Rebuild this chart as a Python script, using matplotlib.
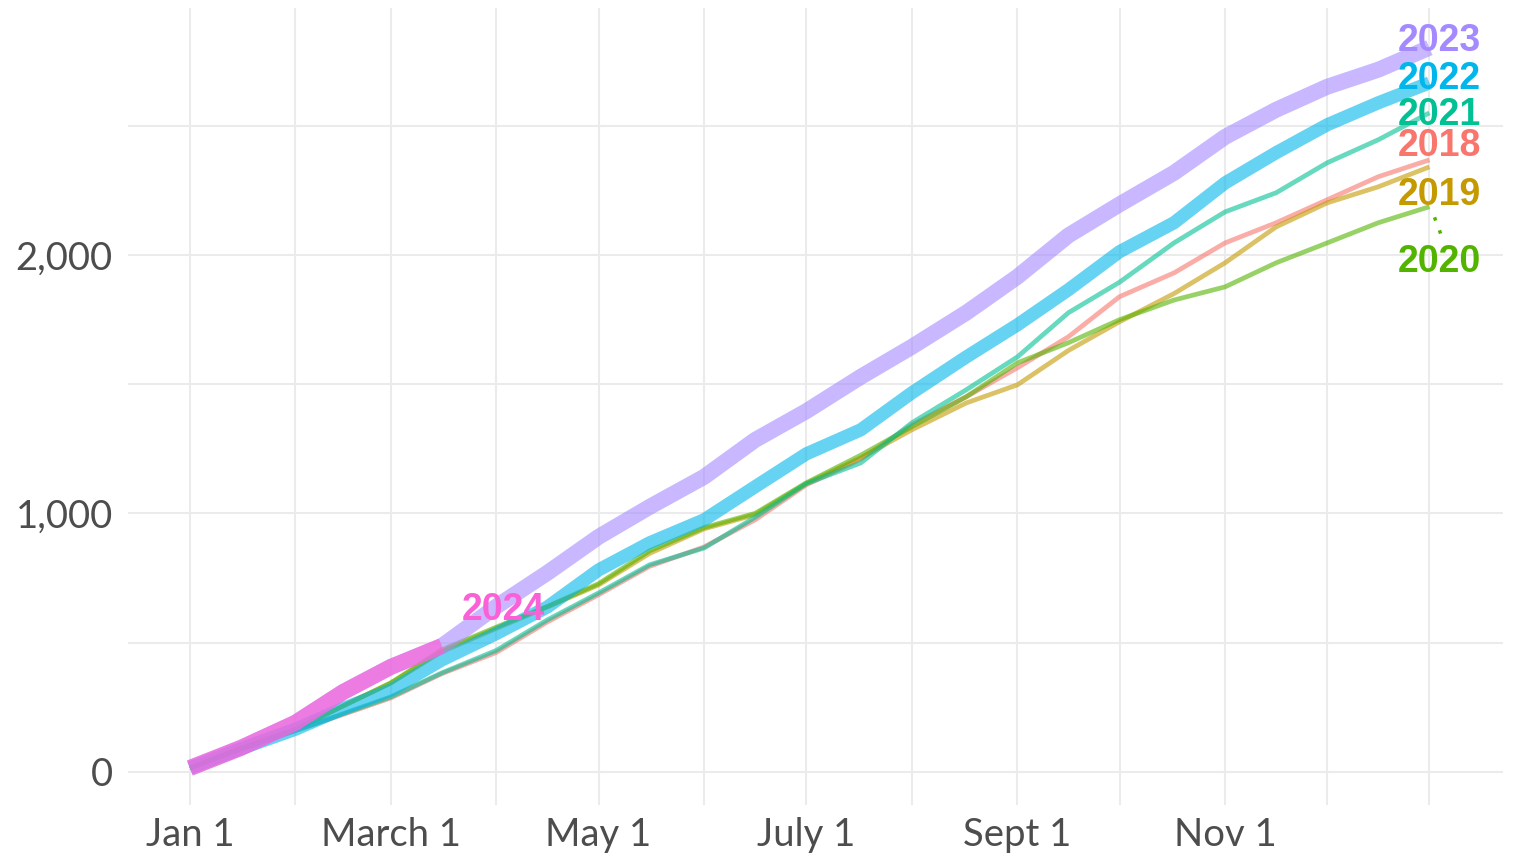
import numpy as np
import matplotlib.pyplot as plt

# day of year, roughly every half month
days = [0, 15, 31, 45, 59, 74, 90, 105, 120, 135, 151, 166, 181,
        197, 212, 228, 243, 258, 273, 289, 304, 319, 334, 349, 364]

# cumulative totals
y2018 = [15, 88, 160, 222, 286, 380, 462, 580, 685, 795, 870, 975, 1110,
         1210, 1342, 1451, 1563, 1683, 1838, 1930, 2046, 2124, 2213, 2302, 2367]
y2019 = [15, 92, 165, 255, 344, 465, 555, 638, 723, 845, 940, 995, 1115,
         1215, 1323, 1427, 1497, 1630, 1741, 1850, 1969, 2108, 2201, 2263, 2340]
y2020 = [15, 92, 165, 255, 344, 472, 560, 640, 728, 855, 945, 1000, 1118,
         1225, 1335, 1451, 1582, 1660, 1749, 1825, 1876, 1969, 2046, 2124, 2186]
y2021 = [15, 88, 160, 225, 290, 383, 470, 588, 692, 801, 866, 985, 1115,
         1195, 1350, 1478, 1605, 1776, 1894, 2046, 2166, 2240, 2356, 2445, 2549]
y2022 = [15, 90, 165, 245, 317, 433, 535, 638, 781, 886, 975, 1103, 1230,
         1323, 1466, 1605, 1729, 1865, 2012, 2124, 2278, 2395, 2503, 2588, 2665]
y2023 = [15, 93, 190, 309, 406, 487, 640, 770, 909, 1025, 1141, 1284, 1395,
         1528, 1644, 1776, 1915, 2075, 2195, 2317, 2456, 2561, 2650, 2716, 2801]
days2024 = [0, 15, 31, 45, 59, 74]
y2024 = [15, 93, 190, 309, 406, 487]

tick_days = [0, 59, 120, 181, 243, 304]
tick_labels = ["Jan 1", "March 1", "May 1", "July 1", "Sept 1", "Nov 1"]
grid_days = [0, 31, 59, 90, 120, 151, 181, 212, 243, 273, 304, 334, 364]

colors = {"2018": "#F8766D", "2019": "#C49A00", "2020": "#53B400",
          "2021": "#00C094", "2022": "#00B6EB", "2023": "#A58AFF",
          "2024": "#FB61D7"}

fig = plt.figure(figsize=(15.14, 8.58), dpi=100)
ax = fig.add_axes([0.0845, 0.0618, 0.9082, 0.929])

# thin lines for the older years
for name, vals in [("2018", y2018), ("2019", y2019), ("2020", y2020), ("2021", y2021)]:
    ax.plot(days, vals, color=colors[name], lw=3.4, alpha=0.6, solid_capstyle="butt")

# thick lines for recent years
ax.plot(days, y2022, color=colors["2022"], lw=9.5, alpha=0.6, solid_capstyle="butt")
ax.plot(days, y2023, color=colors["2023"], lw=11.5, alpha=0.6, solid_capstyle="butt")
ax.plot(days2024, y2024, color=colors["2024"], lw=11.5, alpha=0.7, solid_capstyle="butt")

# year labels at line ends
lab_font = dict(fontsize=27, fontweight="bold", family=["Liberation Sans", "DejaVu Sans"],
                ha="center", va="center")
ax.text(367, 2826, "2023", color=colors["2023"], **lab_font)
ax.text(367, 2679, "2022", color=colors["2022"], **lab_font)
ax.text(367, 2540, "2021", color=colors["2021"], **lab_font)
ax.text(367, 2420, "2018", color=colors["2018"], **lab_font)
ax.text(367, 2232, "2019", color=colors["2019"], **lab_font)
ax.text(367, 1973, "2020", color=colors["2020"], **lab_font)
ax.text(92, 627, "2024", color=colors["2024"], **lab_font)
ax.plot([365.5, 367.5], [2145, 2075], color=colors["2020"], lw=2.5, ls=(0, (1, 3)))

ax.set_xlim(-18.2, 385.6)
ax.set_ylim(-128, 2955)

ax.set_xticks(tick_days)
ax.set_xticklabels(tick_labels)
ax.set_yticks([0, 1000, 2000])
ax.set_yticklabels(["0", "1,000", "2,000"])

# grid
for d in grid_days:
    ax.axvline(d, color="#EBEBEB", lw=1.5, zorder=0)
for v in [0, 500, 1000, 1500, 2000, 2500]:
    ax.axhline(v, color="#EBEBEB", lw=1.5, zorder=0)

for s in ax.spines.values():
    s.set_visible(False)
ax.tick_params(length=0, labelsize=27.5, colors="#4D4D4D")
ax.tick_params(axis="x", pad=9)
ax.tick_params(axis="y", pad=11)
for lbl in ax.get_xticklabels() + ax.get_yticklabels():
    lbl.set_family(["Lato", "DejaVu Sans"])

fig.savefig("out.png", dpi=100)
